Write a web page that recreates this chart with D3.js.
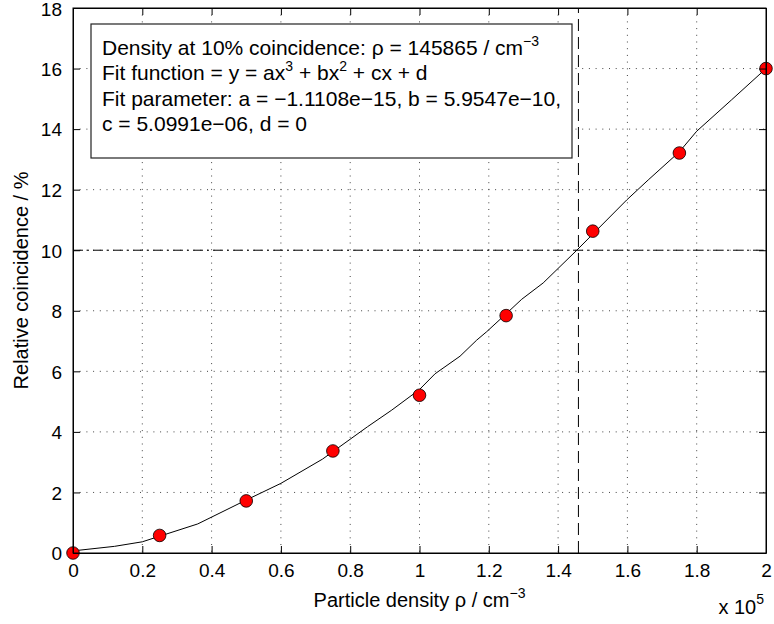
<!DOCTYPE html>
<html>
<head>
<meta charset="utf-8">
<script src="https://cdn.jsdelivr.net/npm/d3@7"></script>
<style>
  body { margin: 0; background: #fff; }
  svg text { font-family: "Liberation Sans", Arial, Helvetica, sans-serif; fill: #000; }
</style>
</head>
<body>
<svg id="chart" width="774" height="624"></svg>
<script>
// measured points (x in units of 1e5 / cm^3, y in %)
var pointX = [0, 0.25, 0.5, 0.75, 1, 1.25, 1.5, 1.75, 2];
var pointY = [0, 0.58, 1.72, 3.37, 5.21, 7.84, 10.63, 13.21, 16.0];

// fitted curve
var fitX = [0, 0.12, 0.2, 0.36, 0.5, 0.6, 0.72, 0.85, 0.92, 1.0, 1.045, 1.117, 1.165, 1.194, 1.25, 1.295, 1.357, 1.454, 1.598, 1.66, 1.75, 1.8, 1.9, 2.0];
var fitY = [0.07, 0.22, 0.37, 0.96, 1.75, 2.3, 3.1, 4.17, 4.72, 5.4, 5.92, 6.5, 7.03, 7.31, 7.9, 8.38, 8.92, 10.0, 11.66, 12.32, 13.25, 13.93, 14.96, 16.0];

var xTicks = [0, 0.2, 0.4, 0.6, 0.8, 1, 1.2, 1.4, 1.6, 1.8, 2];
var yTicks = [0, 2, 4, 6, 8, 10, 12, 14, 16, 18];

var rhoAt10 = 1.45865;
var levelY = 10;

// [text, superscript?]
var legendLines = [
  [['Density at 10% coincidence: ρ = 145865 / cm', 0], ['−3', 1]],
  [['Fit function = y = ax', 0], ['3', 1], [' + bx', 0], ['2', 1], [' + cx + d', 0]],
  [['Fit parameter: a = −1.1108e−15, b = 5.9547e−10,', 0]],
  [['c = 5.0991e−06, d = 0', 0]]
];
var xLabelParts = [['Particle density ρ / cm', 0], ['−3', 1]];
var expParts = [['x 10', 0], ['5', 1]];

var margin = { top: 8, right: 8, bottom: 71, left: 73 };
var width = 774 - margin.left - margin.right;
var height = 624 - margin.top - margin.bottom;

var svg = d3.select('#chart');
var g = svg.append('g').attr('transform', `translate(${margin.left}, ${margin.top})`);

var x = d3.scaleLinear().domain([0, 2]).range([0, width]);
var y = d3.scaleLinear().domain([0, 18]).range([height, 0]);

// writes text with raised parts, dropping back to the baseline after each
function richText(sel, parts, size, supSize, rise) {
  var up = false;
  parts.forEach(function (p) {
    var dy = 0;
    if (p[1] && !up) dy = -rise;
    if (!p[1] && up) dy = rise;
    up = !!p[1];
    sel.append('tspan')
      .attr('dy', dy)
      .style('font-size', (p[1] ? supSize : size) + 'px')
      .text(p[0]);
  });
}

// dotted grid
g.append('g')
  .selectAll('line')
  .data(xTicks.slice(1, -1))
  .enter()
  .append('line')
  .attr('x1', d => x(d)).attr('x2', d => x(d))
  .attr('y1', 0).attr('y2', height)
  .style('stroke', '#444')
  .style('stroke-dasharray', '1,5.7');

g.append('g')
  .selectAll('line')
  .data(yTicks.slice(1, -1))
  .enter()
  .append('line')
  .attr('y1', d => y(d)).attr('y2', d => y(d))
  .attr('x1', 0).attr('x2', width)
  .style('stroke', '#444')
  .style('stroke-dasharray', '1,5.7');

// 10% level and the density where it is reached
g.append('line')
  .attr('x1', x(0)).attr('x2', x(2))
  .attr('y1', y(levelY)).attr('y2', y(levelY))
  .style('stroke', '#000')
  .style('stroke-dasharray', '10,4,2,4');

g.append('line')
  .attr('x1', x(rhoAt10)).attr('x2', x(rhoAt10))
  .attr('y1', y(0)).attr('y2', y(18))
  .style('stroke', '#000')
  .style('stroke-dasharray', '12,6');

var line = d3.line()
  .x((d, i) => x(fitX[i]))
  .y(d => y(d));

g.append('path')
  .datum(fitY)
  .attr('d', line)
  .style('fill', 'none')
  .style('stroke', '#000')
  .style('stroke-width', 1);

g.append('g')
  .selectAll('circle')
  .data(pointY)
  .enter()
  .append('circle')
  .attr('cx', (d, i) => x(pointX[i]))
  .attr('cy', d => y(d))
  .attr('r', 6.3)
  .style('fill', '#ff0000')
  .style('stroke', '#000')
  .style('stroke-width', 0.8);

// axes: MATLAB style, ticks pointing inward on all four sides
var xAxis = d3.axisBottom(x).tickValues(xTicks).tickSizeInner(-7).tickSizeOuter(0).tickPadding(11).tickFormat(d3.format('~g'));
var yAxis = d3.axisLeft(y).tickValues(yTicks).tickSizeInner(-7).tickSizeOuter(0).tickPadding(11);

var xg = g.append('g').attr('transform', `translate(0, ${height})`).call(xAxis);
var yg = g.append('g').call(yAxis);
g.append('g').call(d3.axisTop(x).tickValues(xTicks).tickSizeInner(-7).tickSizeOuter(0).tickFormat(''));
g.append('g').attr('transform', `translate(${width}, 0)`).call(d3.axisRight(y).tickValues(yTicks).tickSizeInner(-7).tickSizeOuter(0).tickFormat(''));

g.selectAll('.domain').style('stroke', '#000');
g.selectAll('.tick line').style('stroke', '#000');
g.selectAll('.tick text').style('font-size', '19px').style('font-family', '"Liberation Sans", Arial, sans-serif');
yg.selectAll('.tick text').attr('dy', d => d === 18 ? '0.42em' : '0.36em');

g.append('rect')
  .attr('width', width).attr('height', height)
  .style('fill', 'none').style('stroke', '#000').style('stroke-width', 1);

// legend text box
var box = g.append('g').attr('transform', 'translate(18, 16)');
box.append('rect')
  .attr('width', 481).attr('height', 134)
  .style('fill', '#fff')
  .style('stroke', '#222')
  .style('stroke-width', 1.2);

legendLines.forEach(function (parts, i) {
  var t = box.append('text')
    .attr('x', 11)
    .attr('y', 31 + i * 25.3);
  richText(t, parts, 21, 14, 9);
});

// axis labels
var xl = svg.append('text')
  .attr('x', margin.left + width / 2)
  .attr('y', 607)
  .attr('text-anchor', 'middle');
richText(xl, xLabelParts, 20, 14, 9);

svg.append('text')
  .attr('transform', `translate(28, ${margin.top + height / 2}) rotate(-90)`)
  .attr('text-anchor', 'middle')
  .style('font-size', '20px')
  .text('Relative coincidence / %');

var ex = svg.append('text')
  .attr('x', 764)
  .attr('y', 614)
  .attr('text-anchor', 'end');
richText(ex, expParts, 20, 14, 10);
</script>
</body>
</html>
